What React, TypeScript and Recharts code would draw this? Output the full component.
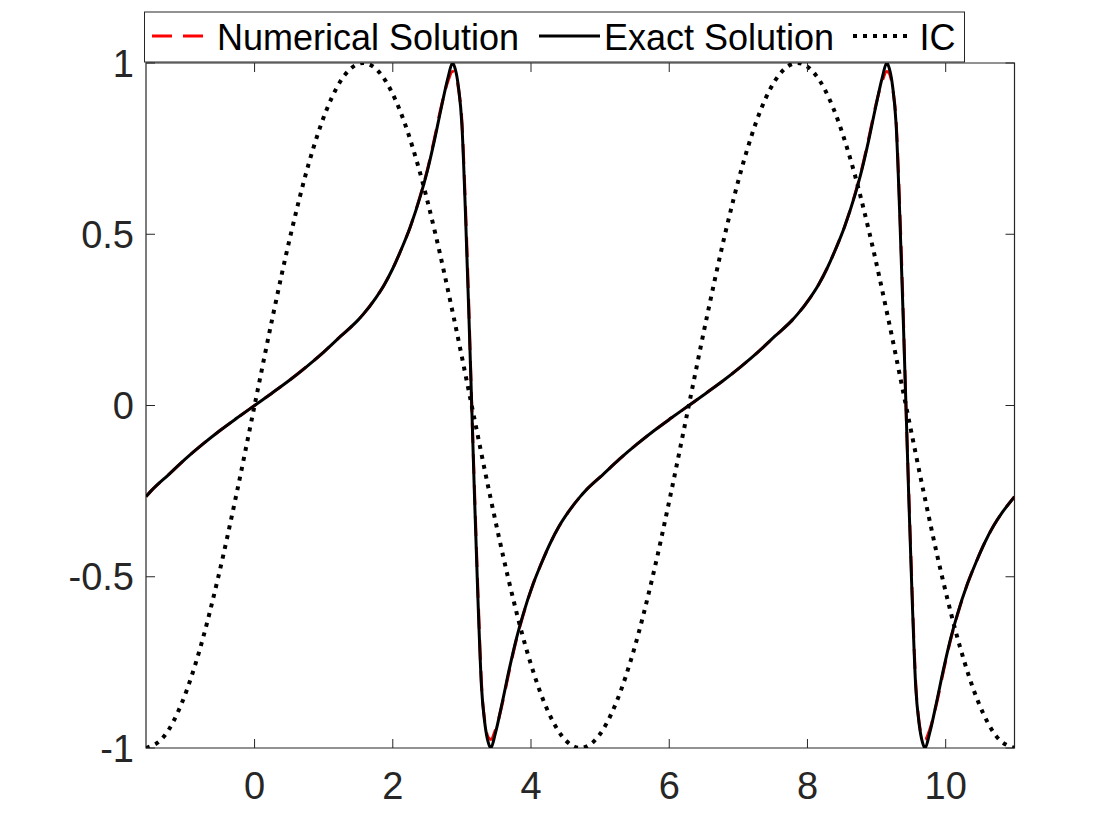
import React from 'react';
import { LineChart, Line, XAxis, YAxis, ReferenceArea } from 'recharts';

// Sample positions of the solution curves
const exactX = [
  -1.571, -1.5, -1.25, -1.0, -0.75, -0.5, -0.25,
  0, 0.25, 0.5, 0.75, 1.0, 1.25, 1.5, 1.571, 1.75, 1.875, 2.0, 2.125, 2.25, 2.4, 2.5, 2.6, 2.7, 2.8, 2.864, 2.9, 2.95, 3.0, 3.05, 3.1, 3.142,
  3.183, 3.233, 3.283, 3.333, 3.383, 3.419, 3.483, 3.583, 3.683, 3.783, 3.883, 4.033, 4.158, 4.283, 4.408, 4.533, 4.712, 4.783, 5.033, 5.283, 5.533, 5.783, 6.033, 6.283,
  6.533, 6.783, 7.033, 7.283, 7.533, 7.783, 7.854, 8.033, 8.158, 8.283, 8.408, 8.533, 8.683, 8.783, 8.883, 8.983, 9.083, 9.147, 9.183, 9.233, 9.283, 9.333, 9.383, 9.425,
  9.466, 9.516, 9.566, 9.616, 9.666, 9.702, 9.766, 9.866, 9.966, 10.066, 10.166, 10.316, 10.441, 10.566, 10.691, 10.816, 10.996,
];

const exactY = [
  -0.266, -0.25, -0.203, -0.156, -0.113, -0.073, -0.036,
  0, 0.036, 0.073, 0.113, 0.156, 0.203, 0.25, 0.266, 0.313, 0.352, 0.4, 0.457, 0.52, 0.612, 0.685, 0.772, 0.868, 0.958, 1.0, 0.985, 0.93, 0.82, 0.57, 0.27, 0,
  -0.27, -0.57, -0.82, -0.93, -0.985, -1.0, -0.958, -0.868, -0.772, -0.685, -0.612, -0.52, -0.457, -0.4, -0.352, -0.313, -0.266, -0.25, -0.203, -0.156, -0.113, -0.073, -0.036, 0,
  0.036, 0.073, 0.113, 0.156, 0.203, 0.25, 0.266, 0.313, 0.352, 0.4, 0.457, 0.52, 0.612, 0.685, 0.772, 0.868, 0.958, 1.0, 0.985, 0.93, 0.82, 0.57, 0.27, 0,
  -0.27, -0.57, -0.82, -0.93, -0.985, -1.0, -0.958, -0.868, -0.772, -0.685, -0.612, -0.52, -0.457, -0.4, -0.352, -0.313, -0.266,
];

const numericalY = [
  -0.266, -0.25, -0.203, -0.156, -0.113, -0.073, -0.036,
  0, 0.036, 0.073, 0.113, 0.156, 0.203, 0.25, 0.266, 0.313, 0.352, 0.4, 0.457, 0.52, 0.614, 0.688, 0.777, 0.872, 0.948, 0.975, 0.97, 0.925, 0.83, 0.59, 0.29, 0,
  -0.25, -0.55, -0.81, -0.925, -0.97, -0.975, -0.948, -0.872, -0.777, -0.688, -0.614, -0.52, -0.457, -0.4, -0.352, -0.313, -0.266, -0.25, -0.203, -0.156, -0.113, -0.073, -0.036, 0,
  0.036, 0.073, 0.113, 0.156, 0.203, 0.25, 0.266, 0.313, 0.352, 0.4, 0.457, 0.52, 0.614, 0.688, 0.777, 0.872, 0.948, 0.975, 0.97, 0.925, 0.83, 0.59, 0.29, 0,
  -0.25, -0.55, -0.81, -0.925, -0.97, -0.975, -0.948, -0.872, -0.777, -0.688, -0.614, -0.52, -0.457, -0.4, -0.352, -0.313, -0.266,
];

// Initial condition samples
const icX = [
  -1.571, -1.309, -1.047, -0.785, -0.524, -0.262, 0, 0.262, 0.524, 0.785, 1.047, 1.309, 1.571,
  1.833, 2.094, 2.356, 2.618, 2.88, 3.142, 3.403, 3.665, 3.927, 4.189, 4.451, 4.712,
  4.974, 5.236, 5.498, 5.76, 6.021, 6.283, 6.545, 6.807, 7.069, 7.33, 7.592, 7.854,
  8.116, 8.378, 8.639, 8.901, 9.163, 9.425, 9.687, 9.948, 10.21, 10.472, 10.734, 10.996,
];
const icY = [
  -1, -0.966, -0.866, -0.707, -0.5, -0.259, 0, 0.259, 0.5, 0.707, 0.866, 0.966, 1,
  0.966, 0.866, 0.707, 0.5, 0.259, 0, -0.259, -0.5, -0.707, -0.866, -0.966, -1,
  -0.966, -0.866, -0.707, -0.5, -0.259, 0, 0.259, 0.5, 0.707, 0.866, 0.966, 1,
  0.966, 0.866, 0.707, 0.5, 0.259, 0, -0.259, -0.5, -0.707, -0.866, -0.966, -1,
];

const xTicks = [0, 2, 4, 6, 8, 10];
const yTicks = [-1, -0.5, 0, 0.5, 1];
const legendLabels = ['Numerical Solution', 'Exact Solution', 'IC'];

const X_DOMAIN: [number, number] = [-Math.PI / 2, 3.5 * Math.PI];
const Y_DOMAIN: [number, number] = [-1, 1];

const PLOT = { left: 146, right: 1014.5, top: 63, bottom: 748 };
const FONT = '"Liberation Sans", Arial, Helvetica, sans-serif';
const AXIS_COLOR = '#262626';
const TICK_LEN = 9;

const exactData = exactX.map((x, i) => ({ x, y: exactY[i] }));
const numericalData = exactX.map((x, i) => ({ x, y: numericalY[i] }));
const icData = icX.map((x, i) => ({ x, y: icY[i] }));

function XTick(props: any) {
  const { x, payload } = props;
  return (
    <g>
      <line x1={x} x2={x} y1={PLOT.bottom} y2={PLOT.bottom - TICK_LEN} stroke={AXIS_COLOR} strokeWidth={1} />
      <line x1={x} x2={x} y1={PLOT.top} y2={PLOT.top + TICK_LEN} stroke={AXIS_COLOR} strokeWidth={1} />
      <text x={x} y={PLOT.bottom + 51} textAnchor="middle" fontSize={38} fontFamily={FONT} fill={AXIS_COLOR}>
        {String(payload.value)}
      </text>
    </g>
  );
}

function YTick(props: any) {
  const { y, payload } = props;
  return (
    <g>
      <line x1={PLOT.left} x2={PLOT.left + TICK_LEN} y1={y} y2={y} stroke={AXIS_COLOR} strokeWidth={1} />
      <line x1={PLOT.right} x2={PLOT.right - TICK_LEN} y1={y} y2={y} stroke={AXIS_COLOR} strokeWidth={1} />
      <text x={134} y={y + 13.5} textAnchor="end" fontSize={38} fontFamily={FONT} fill={AXIS_COLOR}>
        {String(payload.value)}
      </text>
    </g>
  );
}

function LegendBox() {
  return (
    <svg width={1120} height={70} style={{ position: 'absolute', left: 0, top: 0, pointerEvents: 'none' }}>
      <rect x={144.5} y={12} width={820} height={50} fill="#ffffff" stroke={AXIS_COLOR} strokeWidth={1} />
      <line x1={152} x2={203} y1={36} y2={36} stroke="#ff0000" strokeWidth={3} strokeDasharray="20 11" />
      <text x={217} y={50} fontSize={36} fontFamily={FONT} fill="#000">{legendLabels[0]}</text>
      <line x1={539} x2={600} y1={36} y2={36} stroke="#000" strokeWidth={3} />
      <text x={604} y={50} fontSize={36} fontFamily={FONT} fill="#000">{legendLabels[1]}</text>
      <line x1={853} x2={909} y1={36} y2={36} stroke="#000" strokeWidth={4} strokeDasharray="4 6" />
      <text x={919.5} y={50} fontSize={36} fontFamily={FONT} fill="#000">{legendLabels[2]}</text>
    </svg>
  );
}

export default function App() {
  return (
    <div style={{ position: 'absolute', left: 0, top: 0, width: 1120, height: 840, background: '#fff' }}>
      <LineChart
        width={1120}
        height={840}
        margin={{ top: PLOT.top, right: 1120 - PLOT.right, bottom: 0, left: 0 }}
      >
        <XAxis
          type="number"
          dataKey="x"
          domain={X_DOMAIN}
          ticks={xTicks}
          allowDataOverflow
          height={840 - PLOT.bottom}
          axisLine={false}
          tickLine={false}
          tickSize={0}
          tickMargin={0}
          tick={<XTick />}
          interval={0}
        />
        <YAxis
          type="number"
          dataKey="y"
          domain={Y_DOMAIN}
          ticks={yTicks}
          allowDataOverflow
          width={PLOT.left}
          axisLine={false}
          tickLine={false}
          tickSize={0}
          tickMargin={0}
          tick={<YTick />}
          interval={0}
        />
        <ReferenceArea
          x1={X_DOMAIN[0]}
          x2={X_DOMAIN[1]}
          y1={Y_DOMAIN[0]}
          y2={Y_DOMAIN[1]}
          fill="none"
          fillOpacity={0}
          stroke={AXIS_COLOR}
          strokeWidth={1.2}
          ifOverflow="visible"
        />
        <Line
          data={numericalData}
          dataKey="y"
          type="monotone"
          stroke="#ff0000"
          strokeWidth={3}
          strokeDasharray="20 11"
          dot={false}
          activeDot={false}
          isAnimationActive={false}
        />
        <Line
          data={exactData}
          dataKey="y"
          type="monotone"
          stroke="#000000"
          strokeWidth={3}
          dot={false}
          activeDot={false}
          isAnimationActive={false}
        />
        <Line
          data={icData}
          dataKey="y"
          type="monotone"
          stroke="#000000"
          strokeWidth={4}
          strokeDasharray="4 6"
          dot={false}
          activeDot={false}
          isAnimationActive={false}
        />
      </LineChart>
      <LegendBox />
    </div>
  );
}
